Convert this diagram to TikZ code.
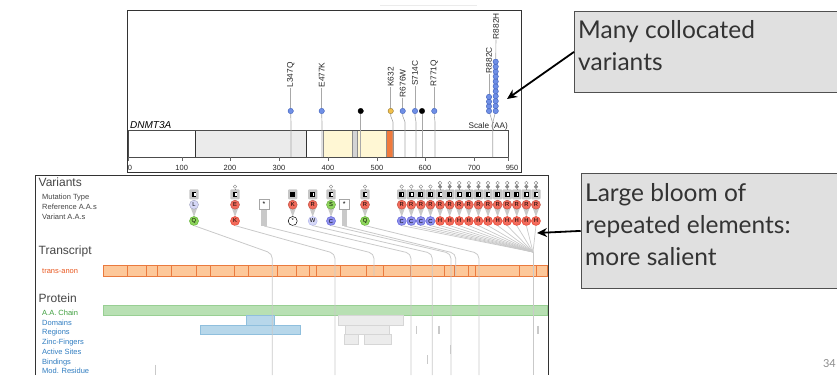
\documentclass[tikz,border=0pt]{standalone}
\usepackage{fontspec}
\setmainfont{Liberation Sans}
\newfontfamily\callfont{Lato}
\usetikzlibrary{arrows.meta}
\definecolor{framec}{HTML}{333333}
\definecolor{stemc}{HTML}{A8A8A8}
\definecolor{headblue}{HTML}{6F8FE6}
\definecolor{headbd}{HTML}{3B5CB8}
\definecolor{headorange}{HTML}{F2C04A}
\definecolor{graylt}{HTML}{EBEBEB}
\definecolor{grayseg}{HTML}{D4D4D4}
\definecolor{yellowlt}{HTML}{FFF7D4}
\definecolor{orangeseg}{HTML}{F07A3C}
\definecolor{mutgray}{HTML}{C6C6C6}
\definecolor{refred}{HTML}{F36B5B}
\definecolor{refredbd}{HTML}{E5412F}
\definecolor{refgrn}{HTML}{8FD65C}
\definecolor{refgrnbd}{HTML}{5FB332}
\definecolor{reflav}{HTML}{D6D8F7}
\definecolor{reflavbd}{HTML}{B6BAF0}
\definecolor{refblu}{HTML}{8E90EE}
\definecolor{refblubd}{HTML}{6668D8}
\definecolor{linkc}{HTML}{C9C9C9}
\definecolor{trfill}{HTML}{FDC89A}
\definecolor{trdraw}{HTML}{EA7A3E}
\definecolor{chainfill}{HTML}{B8E0B3}
\definecolor{chaindraw}{HTML}{98CF93}
\definecolor{domfill}{HTML}{B7D7EA}
\definecolor{domdraw}{HTML}{8FBFDD}
\definecolor{pgfill}{HTML}{ECECEC}
\definecolor{pgdraw}{HTML}{D6D6D6}
\definecolor{labred}{HTML}{E8571F}
\definecolor{labgrn}{HTML}{3D9E3D}
\definecolor{labblu}{HTML}{2F7CC0}
\definecolor{headc}{HTML}{454545}
\definecolor{callfill}{HTML}{E0E0E0}
\definecolor{calldraw}{HTML}{505050}
\tikzset{
  stemline/.style={draw=stemc, line width=0.6pt},
  lolli/.style={circle, draw=headbd, fill=headblue, inner sep=0pt, minimum size=5.4pt, line width=0.4pt},
  mlabel/.style={rotate=90, anchor=east, inner sep=0.3pt, font=\fontsize{8.3}{9}\selectfont, text=black!85},
  axlabel/.style={font=\fontsize{7.5}{8}\selectfont, inner sep=0pt, text=black!85},
  aa/.style={circle, inner sep=0pt, minimum size=9pt, line width=0.5pt, font=\fontsize{5.8}{6}\selectfont},
  mutbox/.style={rectangle, rounded corners=1pt, fill=mutgray, minimum width=9.4pt, minimum height=10pt, inner sep=0pt},
  tinyc/.style={circle, draw=black!50, fill=white, inner sep=0pt, minimum size=3.6pt, line width=0.4pt},
  tinyl/.style={draw=black!45, line width=0.4pt},
  link/.style={draw=linkc, line width=0.8pt, rounded corners=5pt},
  trackhead/.style={anchor=west, font=\fontsize{12}{14}\selectfont, text=headc, inner sep=0pt},
  tracklab/.style={anchor=west, font=\fontsize{7.5}{9}\selectfont, inner sep=0pt},
  callbox/.style={draw=calldraw, fill=callfill, line width=0.8pt, anchor=north west, inner sep=0pt},
  calltext/.style={anchor=base west, font=\callfont\fontsize{24.5}{30}\selectfont, text=black!80, inner sep=0pt},
  bigarrow/.style={-{Stealth[length=10pt,width=9pt]}, line width=1.8pt, black},
}
% #1 name #2 x #3 dots #4 icon(0 half,1 full) #5 ref letter #6 ref colour #7 var letter #8 var colour #9 var border
\newcommand\mutcol[9]{%
  \fill[linkc] (#2-3.2,208) -- (#2+3.2,208) -- (#2,216.8) -- cycle;
  \node[mutbox] (#1-m) at (#2,194.3) {};
  \fill[black] (#2-2.4,191.9) rectangle (#2+2.4,196.7);
  \ifnum#4=0 \fill[white] (#2+0.1,192.7) rectangle (#2+1.6,195.9);\fi
  \ifnum#3=1
    \node[tinyc] (#1-t) at (#2,186.6) {};
    \draw[tinyl] (#1-t) -- (#1-m);
  \fi
  \ifnum#3=2
    \node[tinyc] (#1-t) at (#2,183) {};
    \node[tinyc, fill=black!45] (#1-u) at (#2,186.7) {};
    \draw[tinyl] (#1-u) -- (#1-m);
  \fi
  \node[aa, fill=#6, draw=#6!80!black] (#1-r) at (#2,204.7) {#5};
  \node[aa, fill=#8, draw=#9] (#1-v) at (#2,221) {#7};
  \coordinate (#1-b) at (#2,225.6);
}
\newcommand\nonsense[2]{%
  \fill[linkc] (#2-2.6,208) rectangle (#2+2.6,226);
  \node[draw=black!35, fill=white, minimum size=9.6pt, inner sep=0pt, font=\fontsize{7}{7}\selectfont] (#1-r) at (#2,204.3) {*};
  \coordinate (#1-b) at (#2,226);
}
\begin{document}
\begin{tikzpicture}[x=1pt,y=-1pt]
\useasboundingbox (0,0) rectangle (837,375);

% ---------- top panel ----------
\draw[black!8, line width=0.6pt] (380,5) -- (477,5);
\draw[framec, line width=0.8pt] (127,10) rectangle (521,172);

\fill[white] (128,130) rectangle (508,157);
\fill[graylt] (195,130) rectangle (306.5,157);
\fill[yellowlt] (323,130) rectangle (352,157);
\fill[grayseg] (352,130) rectangle (357,157);
\fill[yellowlt] (357,130) rectangle (386.5,157);
\fill[orangeseg] (386.5,130) rectangle (393,157);
\foreach \xx in {195,306.5} \draw[framec, line width=0.6pt] (\xx,130) -- (\xx,157);
\foreach \xx in {323,352,357,386.5,393} \draw[black!45, line width=0.4pt] (\xx,130) -- (\xx,157);
\draw[black!70, line width=0.6pt] (128,130) rectangle (508,157);

\node[anchor=base west, font=\itshape\fontsize{10}{11}\selectfont, inner sep=0pt] (gname) at (130,128.3) {DNMT3A};
\node[anchor=base east, font=\fontsize{8.2}{9}\selectfont, inner sep=0pt, text=black!85] (scl) at (508,128.3) {Scale (AA)};

\draw[black!60, line width=0.4pt] (128.5,157) -- (128.5,160.5);
\node[axlabel, anchor=west] (ax0) at (127.6,167.5) {0};
\foreach \xx/\t in {181.7/100,230/200,279/300,328/400,377/500,425/600,474/700}{
  \draw[black!60, line width=0.4pt] (\xx,157) -- (\xx,160.5);
  \node[axlabel] (ax\t) at (\xx,167.5) {\t};
}
\draw[black!60, line width=0.4pt] (508,157) -- (508,160.5);
\node[axlabel] (ax950) at (512,167.5) {950};

% lollipops
\foreach \n/\x/\xb/\top/\txt/\col/\bd in {a/290.7/291/62/L347Q/headblue/headbd, b/321.7/322/62/E477K/headblue/headbd, d/390.7/393/66.7/K632/headorange/headorange!60!black, e/402.7/405/69/R676W/headblue/headbd, f/415/416/60/S714C/headblue/headbd, h/434.3/435/59.5/R771Q/headblue/headbd}{
  \node[mlabel] (L\n) at (\x,\top) {\txt};
  \node[lolli, fill=\col, draw=\bd] (H\n) at (\x,111) {};
  \coordinate (B\n) at (\xb,157);
  \draw[stemline] (L\n.west) -- (H\n.north);
  \draw[stemline] (H\n.south) -- (\x,116) -- (\xb,122) -- (B\n);
}
\foreach \n/\x in {c/360.7, g/422}{
  \node[lolli, fill=black, draw=black] (H\n) at (\x,111) {};
  \coordinate (B\n) at (\x,157);
  \draw[stemline] (H\n.south) -- (B\n);
}
% cluster
\coordinate (cb) at (492.7,123);
\coordinate (cbb) at (492.7,157);
\draw[stemline] (489,111) -- (cb);
\draw[stemline] (495.7,111) -- (cb) -- (cbb);
\foreach \i in {0,...,3}{ \node[lolli] (C\i) at (489,{111-4.7*\i}) {}; }
\foreach \i in {0,...,10}{ \node[lolli] (R\i) at (495.7,{111-4.93*\i}) {}; }
\node[mlabel] (LC) at (489,46.7) {R882C};
\node[mlabel] (LH) at (496,12.7) {R882H};
\draw[stemline] (LC.west) -- (C3.north);
\draw[stemline] (LH.west) -- (R10.north);

% ---------- bottom panel ----------
\draw[framec, line width=0.9pt] (35,375) -- (35,175) -- (548,175) -- (548,375);

\node[trackhead] (hvar) at (38.5,182.5) {Variants};
\node[tracklab, text=headc] (lmt) at (42,197.7) {Mutation Type};
\node[tracklab, text=headc] (lref) at (42,207.3) {Reference A.A.s};
\node[tracklab, text=headc] (lvar) at (42,217) {Variant A.A.s};
\node[trackhead] (htr) at (38.5,251) {Transcript};
\node[tracklab, text=labred] (ltr) at (42,271) {trans-anon};
\node[trackhead] (hpr) at (38.5,298) {Protein};
\node[tracklab, text=labgrn] (lch) at (42,312.7) {A.A. Chain};
\node[tracklab, text=labblu] (ldo) at (42,322.7) {Domains};
\node[tracklab, text=labblu] (lre) at (42,332.7) {Regions};
\node[tracklab, text=labblu] (lzf) at (42,342.5) {Zinc-Fingers};
\node[tracklab, text=labblu] (las) at (42,352.3) {Active Sites};
\node[tracklab, text=labblu] (lbi) at (42,362.3) {Bindings};
\node[tracklab, text=labblu] (lmr) at (42,371.2) {Mod. Residue};

% transcript
\filldraw[fill=trfill, draw=trdraw, line width=0.9pt] (103.5,265.7) rectangle (547.5,276);
\foreach \xx in {127.3,146.7,157.7,171.7,196,210.7,234.7,248.3,277.3,296.7,309.3,316.7,340.7,366.7,383.3,410,444,454.3,468.3,475,519.3,536}
  \draw[trdraw, line width=0.8pt] (\xx,265.7) -- (\xx,276);

% protein
\filldraw[fill=chainfill, draw=chaindraw, line width=0.6pt] (103.5,305.3) rectangle (547.5,315.3);
\filldraw[fill=domfill, draw=domdraw, line width=0.6pt] (246,315.3) rectangle (274.7,325);
\filldraw[fill=domfill, draw=domdraw, line width=0.6pt] (200.7,325) rectangle (300.3,334.7);
\filldraw[fill=pgfill, draw=pgdraw, line width=0.6pt] (338.3,315.3) rectangle (403.3,325);
\filldraw[fill=pgfill, draw=pgdraw, line width=0.6pt] (345,325) rectangle (389.3,334.7);
\filldraw[fill=pgfill, draw=pgdraw, line width=0.6pt] (344,334.7) rectangle (358.7,344.3);
\filldraw[fill=pgfill, draw=pgdraw, line width=0.6pt] (364.3,334.7) rectangle (391.3,344.3);
\foreach \xx/\ya/\yb in {416.7/325.5/334.3, 439/325.5/334.3, 538/325.5/334.3, 450.7/345/354, 427.7/355/364.3, 155.3/364.5/375}
  \draw[linkc, line width=1.1pt] (\xx,\ya) -- (\xx,\yb);

% variant columns
\mutcol{s1}{194}{0}{0}{L}{reflav}{Q}{refgrn}{refgrnbd}
\mutcol{s2}{235}{1}{0}{E}{refred}{K}{refred}{refredbd}
\nonsense{s3}{264}
\mutcol{s4}{292.7}{0}{1}{K}{refred}{*}{white}{black}
\mutcol{s5}{312.7}{0}{0}{R}{refred}{W}{reflav}{reflavbd}
\mutcol{s6}{331}{1}{0}{S}{refgrn}{C}{refblu}{refblubd}
\nonsense{s7}{344.3}
\mutcol{s8}{365}{1}{0}{R}{refred}{Q}{refgrn}{refgrnbd}
\foreach \k in {0,...,3}{
  \pgfmathsetmacro\xx{401.7+9.59*\k}
  \mutcol{c\k}{\xx}{1}{0}{R}{refred}{C}{refblu}{refblubd}
}
\foreach \k in {4,...,14}{
  \pgfmathsetmacro\xx{401.7+9.59*\k}
  \mutcol{c\k}{\xx}{2}{0}{R}{refred}{H}{refred}{refredbd}
}

% connectors to transcript / protein
\foreach \n/\xe in {s1/272.3, s2/335, s4/411, s5/432.3, s6/451, s8/479}{
  \coordinate (\n-e) at (\xe,253.5);
  \coordinate (\n-f) at (\xe,375);
  \draw[link] (\n-b) -- (\n-e) -- (\n-f);
}
\foreach \n/\xe in {s3/374, s7/455.7}{
  \coordinate (\n-e) at (\xe,253.5);
  \coordinate (\n-f) at (\xe,276);
  \draw[link] (\n-b) -- (\n-e) -- (\n-f);
}
\coordinate (bl) at (533,252);
\coordinate (blf) at (533,375);
\foreach \k in {0,...,14}{ \draw[draw=linkc, line width=0.7pt] (c\k-b) -- (bl); }
\draw[draw=linkc, line width=0.9pt] (bl) -- (blf);

% ---------- callouts ----------
\node[callbox, minimum width=280pt, minimum height=81pt] (box1) at (574,11) {};
\node[calltext] (t1a) at (578,38) {Many collocated};
\node[calltext] (t1b) at (578,70) {variants};
\coordinate (a1) at (507,99);
\draw[bigarrow] (box1.west) -- (a1);

\node[callbox, minimum width=275pt, minimum height=115pt] (box2) at (580.7,173) {};
\node[calltext] (t2a) at (585,201.7) {Large bloom of};
\node[calltext] (t2b) at (585,233) {repeated elements:};
\node[calltext] (t2c) at (585,265) {more salient};
\coordinate (a2) at (537,233);
\draw[bigarrow] (box2.west) -- (a2);

\node[anchor=base east, font=\callfont\fontsize{11}{12}\selectfont, text=black!45, inner sep=0pt] (pg) at (836,367) {34};
\end{tikzpicture}
\end{document}
